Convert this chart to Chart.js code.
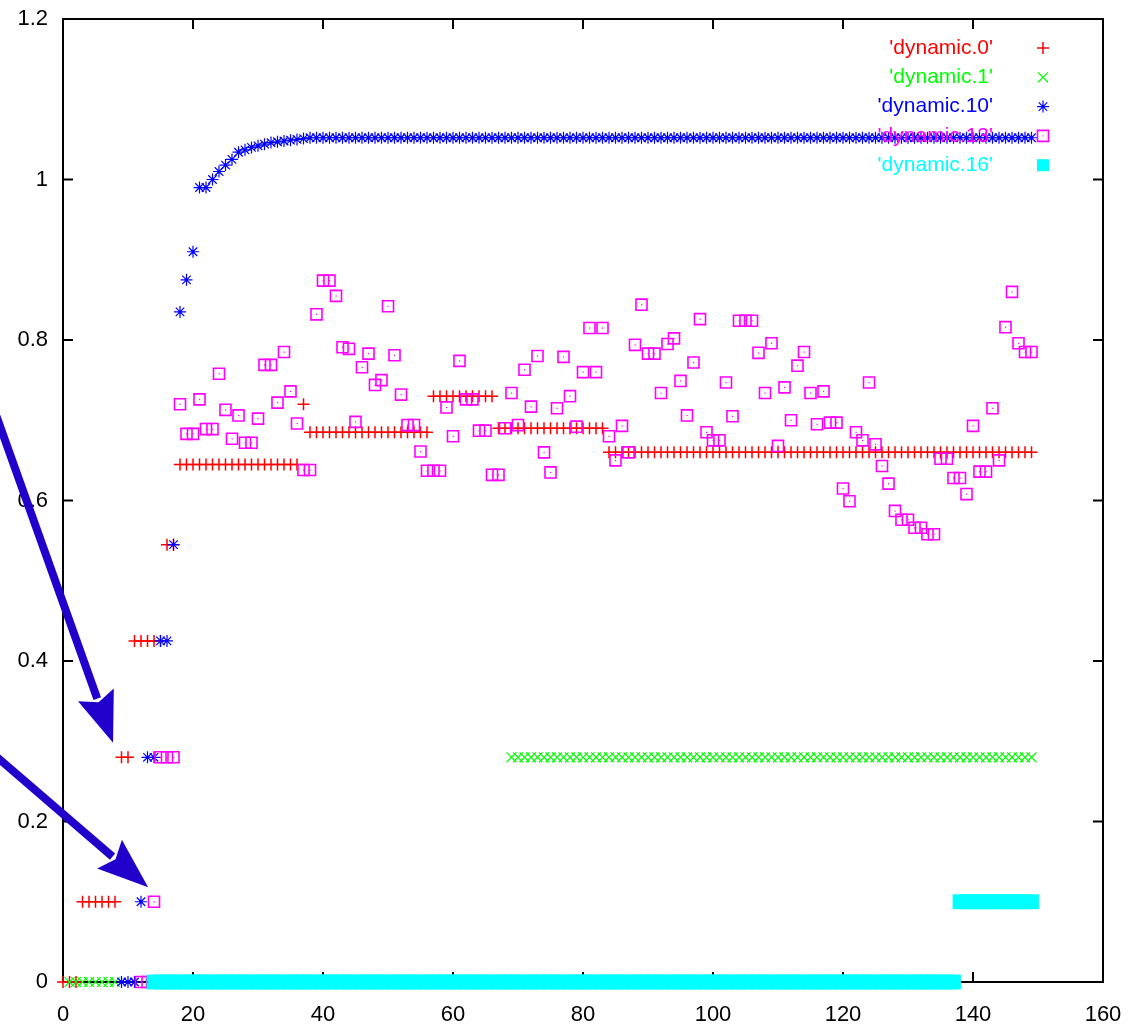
<!DOCTYPE html>
<html>
<head>
<meta charset="utf-8">
<script src="https://cdn.jsdelivr.net/npm/chart.js@4.4.1/dist/chart.umd.min.js"></script>
<style>
  html, body { margin: 0; padding: 0; background: #fff; }
  canvas { display: block; }
</style>
</head>
<body>
<canvas id="grafico" width="1141" height="1026"></canvas>
<script>
// Ejes
const xTicks = [0, 20, 40, 60, 80, 100, 120, 140, 160];
const yTicks = [0, 0.2, 0.4, 0.6, 0.8, 1, 1.2];

// Nombres de las series (leyenda)
const seriesLabels = ["'dynamic.0'", "'dynamic.1'", "'dynamic.10'", "'dynamic.13'", "'dynamic.16'"];

// Valores por serie, el índice del arreglo es el valor x (0..149)
const dynamic0 = [
  0, 0, 0, 0.1, 0.1, 0.1, 0.1, 0.1, 0.1, 0.28,
  0.28, 0.425, 0.425, 0.425, 0.425, 0.425, 0.545, 0.545, 0.645, 0.645,
  0.645, 0.645, 0.645, 0.645, 0.645, 0.645, 0.645, 0.645, 0.645, 0.645,
  0.645, 0.645, 0.645, 0.645, 0.645, 0.645, 0.645, 0.72, 0.685, 0.685,
  0.685, 0.685, 0.685, 0.685, 0.685, 0.685, 0.685, 0.685, 0.685, 0.685,
  0.685, 0.685, 0.685, 0.685, 0.685, 0.685, 0.685, 0.73, 0.73, 0.73,
  0.73, 0.73, 0.73, 0.73, 0.73, 0.73, 0.73, 0.69, 0.69, 0.69,
  0.69, 0.69, 0.69, 0.69, 0.69, 0.69, 0.69, 0.69, 0.69, 0.69,
  0.69, 0.69, 0.69, 0.69, 0.66, 0.66, 0.66, 0.66, 0.66, 0.66,
  0.66, 0.66, 0.66, 0.66, 0.66, 0.66, 0.66, 0.66, 0.66, 0.66,
  0.66, 0.66, 0.66, 0.66, 0.66, 0.66, 0.66, 0.66, 0.66, 0.66,
  0.66, 0.66, 0.66, 0.66, 0.66, 0.66, 0.66, 0.66, 0.66, 0.66,
  0.66, 0.66, 0.66, 0.66, 0.66, 0.66, 0.66, 0.66, 0.66, 0.66,
  0.66, 0.66, 0.66, 0.66, 0.66, 0.66, 0.66, 0.66, 0.66, 0.66,
  0.66, 0.66, 0.66, 0.66, 0.66, 0.66, 0.66, 0.66, 0.66, 0.66
];

const dynamic1 = [
  null, 0, 0, 0, 0, 0, 0, 0, 0, null,
  null, null, null, null, null, null, null, null, null, null,
  null, null, null, null, null, null, null, null, null, null,
  null, null, null, null, null, null, null, null, null, null,
  null, null, null, null, null, null, null, null, null, null,
  null, null, null, null, null, null, null, null, null, null,
  null, null, null, null, null, null, null, null, null, 0.28,
  0.28, 0.28, 0.28, 0.28, 0.28, 0.28, 0.28, 0.28, 0.28, 0.28,
  0.28, 0.28, 0.28, 0.28, 0.28, 0.28, 0.28, 0.28, 0.28, 0.28,
  0.28, 0.28, 0.28, 0.28, 0.28, 0.28, 0.28, 0.28, 0.28, 0.28,
  0.28, 0.28, 0.28, 0.28, 0.28, 0.28, 0.28, 0.28, 0.28, 0.28,
  0.28, 0.28, 0.28, 0.28, 0.28, 0.28, 0.28, 0.28, 0.28, 0.28,
  0.28, 0.28, 0.28, 0.28, 0.28, 0.28, 0.28, 0.28, 0.28, 0.28,
  0.28, 0.28, 0.28, 0.28, 0.28, 0.28, 0.28, 0.28, 0.28, 0.28,
  0.28, 0.28, 0.28, 0.28, 0.28, 0.28, 0.28, 0.28, 0.28, 0.28
];

const dynamic10 = [
  null, null, null, null, null, null, null, null, null, 0,
  0, 0, 0.1, 0.28, 0.28, 0.425, 0.425, 0.545, 0.835, 0.875,
  0.91, 0.99, 0.99, 1.0, 1.01, 1.018, 1.025, 1.034, 1.037, 1.04,
  1.042, 1.044, 1.046, 1.047, 1.048, 1.049, 1.05, 1.051, 1.052, 1.052,
  1.052, 1.052, 1.052, 1.052, 1.052, 1.052, 1.052, 1.052, 1.052, 1.052,
  1.052, 1.052, 1.052, 1.052, 1.052, 1.052, 1.052, 1.052, 1.052, 1.052,
  1.052, 1.052, 1.052, 1.052, 1.052, 1.052, 1.052, 1.052, 1.052, 1.052,
  1.052, 1.052, 1.052, 1.052, 1.052, 1.052, 1.052, 1.052, 1.052, 1.052,
  1.052, 1.052, 1.052, 1.052, 1.052, 1.052, 1.052, 1.052, 1.052, 1.052,
  1.052, 1.052, 1.052, 1.052, 1.052, 1.052, 1.052, 1.052, 1.052, 1.052,
  1.052, 1.052, 1.052, 1.052, 1.052, 1.052, 1.052, 1.052, 1.052, 1.052,
  1.052, 1.052, 1.052, 1.052, 1.052, 1.052, 1.052, 1.052, 1.052, 1.052,
  1.052, 1.052, 1.052, 1.052, 1.052, 1.052, 1.052, 1.052, 1.052, 1.052,
  1.052, 1.052, 1.052, 1.052, 1.052, 1.052, 1.052, 1.052, 1.052, 1.052,
  1.052, 1.052, 1.052, 1.052, 1.052, 1.052, 1.052, 1.052, 1.052, 1.052
];

const dynamic13 = [
  null, null, null, null, null, null, null, null, null, null,
  null, null, 0, 0, 0.1, 0.28, 0.28, 0.28, 0.72, 0.683,
  0.683, 0.726, 0.689, 0.689, 0.758, 0.713, 0.677, 0.706, 0.672, 0.672,
  0.702, 0.769, 0.769, 0.722, 0.785, 0.736, 0.696, 0.638, 0.638, 0.832,
  0.874, 0.874, 0.855, 0.791, 0.789, 0.698, 0.766, 0.783, 0.744, 0.750,
  0.842, 0.781, 0.732, 0.694, 0.694, 0.661, 0.637, 0.637, 0.637, 0.716,
  0.680, 0.774, 0.726, 0.726, 0.687, 0.687, 0.632, 0.632, 0.690, 0.734,
  0.694, 0.763, 0.717, 0.780, 0.660, 0.635, 0.715, 0.779, 0.730, 0.692,
  0.760, 0.815, 0.760, 0.815, 0.680, 0.650, 0.693, 0.660, 0.794, 0.844,
  0.783, 0.783, 0.734, 0.795, 0.802, 0.749, 0.706, 0.772, 0.826, 0.685,
  0.675, 0.675, 0.747, 0.705, 0.824, 0.824, 0.824, 0.784, 0.734, 0.796,
  0.668, 0.741, 0.700, 0.768, 0.785, 0.734, 0.695, 0.736, 0.697, 0.697,
  0.615, 0.599, 0.685, 0.675, 0.747, 0.670, 0.643, 0.621, 0.587, 0.576,
  0.576, 0.566, 0.566, 0.558, 0.558, 0.652, 0.652, 0.628, 0.628, 0.608,
  0.693, 0.636, 0.636, 0.715, 0.650, 0.816, 0.860, 0.796, 0.785, 0.785
];

const dynamic16 = [
  null, null, null, null, null, null, null, null, null, null,
  null, null, null, null, 0, 0, 0, 0, 0, 0,
  0, 0, 0, 0, 0, 0, 0, 0, 0, 0,
  0, 0, 0, 0, 0, 0, 0, 0, 0, 0,
  0, 0, 0, 0, 0, 0, 0, 0, 0, 0,
  0, 0, 0, 0, 0, 0, 0, 0, 0, 0,
  0, 0, 0, 0, 0, 0, 0, 0, 0, 0,
  0, 0, 0, 0, 0, 0, 0, 0, 0, 0,
  0, 0, 0, 0, 0, 0, 0, 0, 0, 0,
  0, 0, 0, 0, 0, 0, 0, 0, 0, 0,
  0, 0, 0, 0, 0, 0, 0, 0, 0, 0,
  0, 0, 0, 0, 0, 0, 0, 0, 0, 0,
  0, 0, 0, 0, 0, 0, 0, 0, 0, 0,
  0, 0, 0, 0, 0, 0, 0, 0, 0.1, 0.1,
  0.1, 0.1, 0.1, 0.1, 0.1, 0.1, 0.1, 0.1, 0.1, 0.1
];

// Flechas de anotación (coordenadas de datos: cola -> punta)
const flechas = [
  { desde: [-12, 0.745], hasta: [7.7, 0.298] },
  { desde: [-12, 0.293], hasta: [13.1, 0.118] }
];

// Pasar arreglo (índice = x) a puntos {x, y}
function aPuntos(valores) {
  return valores.map((v, i) => ({ x: i, y: v }));
}

const estilos = [
  { color: '#ff0000', pointStyle: 'cross', radius: 6, width: 1.5, fill: false },
  { color: '#00ff00', pointStyle: 'crossRot', radius: 7, width: 1.2, fill: false },
  { color: '#0000ff', pointStyle: 'star', radius: 6, width: 1.2, fill: false },
  { color: '#ff00ff', pointStyle: 'rect', radius: 7.8, width: 1.6, fill: false },
  { color: '#00ffff', pointStyle: 'rect', radius: 10.5, width: 0, fill: true }
];

const valores = [dynamic0, dynamic1, dynamic10, dynamic13, dynamic16];

const datasets = valores.map((serie, i) => ({
  label: seriesLabels[i],
  data: aPuntos(serie),
  pointStyle: estilos[i].pointStyle,
  pointRadius: estilos[i].radius,
  pointBorderWidth: estilos[i].width,
  borderColor: estilos[i].color,
  backgroundColor: estilos[i].fill ? estilos[i].color : 'rgba(0,0,0,0)',
  showLine: false,
  clip: false,
  order: 5 - i // gnuplot dibuja la última serie encima
}));

// Dibuja un marcador como los de la gráfica (para la leyenda)
function marcador(ctx, est, x, y) {
  const r = est.radius;
  ctx.save();
  ctx.strokeStyle = est.color;
  ctx.fillStyle = est.color;
  ctx.lineWidth = est.width || 1;
  ctx.beginPath();
  if (est.pointStyle === 'cross' || est.pointStyle === 'star') {
    ctx.moveTo(x - r, y); ctx.lineTo(x + r, y);
    ctx.moveTo(x, y - r); ctx.lineTo(x, y + r);
  }
  if (est.pointStyle === 'crossRot' || est.pointStyle === 'star') {
    const d = r * Math.SQRT1_2;
    ctx.moveTo(x - d, y - d); ctx.lineTo(x + d, y + d);
    ctx.moveTo(x - d, y + d); ctx.lineTo(x + d, y - d);
  }
  if (est.pointStyle === 'rect') {
    const s = r * Math.SQRT1_2;
    if (est.fill) {
      ctx.fillRect(x - s, y - s, 2 * s, 2 * s);
    } else {
      ctx.rect(x - s, y - s, 2 * s, 2 * s);
      ctx.fillRect(x - 0.5, y - 0.5, 1, 1);
    }
  }
  ctx.stroke();
  ctx.restore();
}

// Marco y marcas de los ejes hacia adentro (estilo gnuplot)
const marcoPlugin = {
  id: 'marco',
  beforeDatasetsDraw(chart) {
    const { ctx, chartArea: a, scales: { x, y } } = chart;
    const largo = 10;
    ctx.save();
    ctx.strokeStyle = '#000';
    ctx.lineWidth = 2;
    ctx.strokeRect(a.left, a.top, a.right - a.left, a.bottom - a.top);
    ctx.beginPath();
    xTicks.forEach(v => {
      const px = x.getPixelForValue(v);
      ctx.moveTo(px, a.bottom); ctx.lineTo(px, a.bottom - largo);
      ctx.moveTo(px, a.top); ctx.lineTo(px, a.top + largo);
    });
    yTicks.forEach(v => {
      const py = y.getPixelForValue(v);
      ctx.moveTo(a.left, py); ctx.lineTo(a.left + largo, py);
      ctx.moveTo(a.right, py); ctx.lineTo(a.right - largo, py);
    });
    ctx.stroke();
    ctx.restore();
  }
};

// Puntito central de los cuadrados magenta + leyenda
const leyendaPlugin = {
  id: 'leyenda',
  afterDatasetsDraw(chart) {
    const ctx = chart.ctx;
    const meta = chart.getDatasetMeta(3);
    ctx.save();
    ctx.fillStyle = '#ff00ff';
    meta.data.forEach(p => {
      if (!p.skip) ctx.fillRect(p.x - 0.5, p.y - 0.5, 1.2, 1.2);
    });
    ctx.restore();

    const textoDerecha = 993, xMarca = 1043, arriba = 48, paso = 29.3;
    chart.data.datasets.forEach((ds, i) => {
      const yy = arriba + i * paso;
      ctx.save();
      ctx.font = '21px "Liberation Sans", Arial, sans-serif';
      ctx.textAlign = 'right';
      ctx.textBaseline = 'middle';
      ctx.fillStyle = estilos[i].color;
      ctx.fillText(ds.label, textoDerecha, yy);
      ctx.restore();
      const est = Object.assign({}, estilos[i]);
      if (i === 4) est.radius = 8.5;
      marcador(ctx, est, xMarca, yy);
    });
  }
};

// Flechas azules gruesas
const flechasPlugin = {
  id: 'flechas',
  afterDraw(chart) {
    const { ctx, scales: { x, y } } = chart;
    ctx.save();
    ctx.strokeStyle = '#2200cc';
    ctx.fillStyle = '#2200cc';
    ctx.lineWidth = 8;
    flechas.forEach(f => {
      const x0 = x.getPixelForValue(f.desde[0]), y0 = y.getPixelForValue(f.desde[1]);
      const x1 = x.getPixelForValue(f.hasta[0]), y1 = y.getPixelForValue(f.hasta[1]);
      const ang = Math.atan2(y1 - y0, x1 - x0);
      const largo = 51, ancho = 19;
      const bx = x1 - largo * Math.cos(ang), by = y1 - largo * Math.sin(ang);
      ctx.beginPath();
      ctx.moveTo(x0, y0);
      ctx.lineTo(bx + 4 * Math.cos(ang), by + 4 * Math.sin(ang));
      ctx.stroke();
      ctx.beginPath();
      ctx.moveTo(x1, y1);
      ctx.lineTo(bx + ancho * Math.sin(ang), by - ancho * Math.cos(ang));
      ctx.lineTo(bx + 8 * Math.cos(ang), by + 8 * Math.sin(ang));
      ctx.lineTo(bx - ancho * Math.sin(ang), by + ancho * Math.cos(ang));
      ctx.closePath();
      ctx.fill();
    });
    ctx.restore();
  }
};

const fuenteEjes = { family: '"Liberation Sans", Arial, sans-serif', size: 22 };

const ctx = document.getElementById('grafico').getContext('2d');
new Chart(ctx, {
  type: 'scatter',
  data: { datasets: datasets },
  options: {
    responsive: false,
    animation: false,
    events: [],
    layout: { padding: { top: 19, right: 38, left: 0, bottom: 0 } },
    plugins: {
      legend: { display: false },
      tooltip: { enabled: false }
    },
    scales: {
      x: {
        type: 'linear',
        min: 0,
        max: 160,
        grid: { display: false, drawTicks: false },
        border: { display: false },
        afterBuildTicks: s => { s.ticks = xTicks.map(v => ({ value: v })); },
        afterFit: s => { s.height = 44; s.paddingLeft = 0; s.paddingRight = 0; },
        ticks: { color: '#000', font: fuenteEjes, padding: 20, maxRotation: 0, autoSkip: false }
      },
      y: {
        type: 'linear',
        min: 0,
        max: 1.2,
        grid: { display: false, drawTicks: false },
        border: { display: false },
        afterBuildTicks: s => { s.ticks = yTicks.map(v => ({ value: v })); },
        afterFit: s => { s.width = 63; s.paddingTop = 0; s.paddingBottom = 0; },
        ticks: { color: '#000', font: fuenteEjes, padding: 15, autoSkip: false,
                 callback: v => String(v) }
      }
    }
  },
  plugins: [marcoPlugin, leyendaPlugin, flechasPlugin]
});
</script>
</body>
</html>
